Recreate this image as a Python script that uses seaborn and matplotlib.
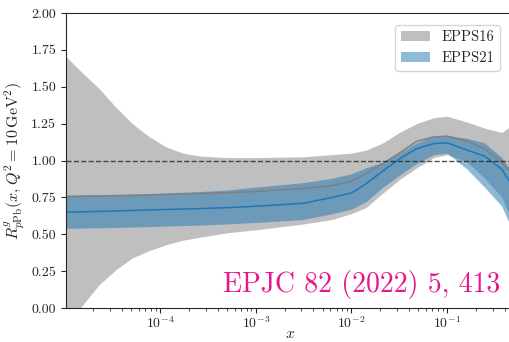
import numpy as np
import pandas as pd
import matplotlib
matplotlib.use("Agg")
import matplotlib.pyplot as plt
import seaborn as sns

# Gluon nuclear modification R^g_{pPb}(x, Q^2 = 10 GeV^2): EPPS16 vs EPPS21
x = [1.0e-5, 1.51e-5, 2.29e-5, 3.47e-5, 5.13e-5, 7.76e-5, 1.17e-4, 1.74e-4,
     2.63e-4, 5.0e-4, 1.0e-3, 3.16e-3, 6.3e-3, 1.0e-2, 1.41e-2, 2.14e-2,
     3.16e-2, 4.79e-2, 7.24e-2, 0.1, 0.162, 0.245, 0.372, 0.5]

epps16_hi = [1.715, 1.60, 1.49, 1.36, 1.25, 1.16, 1.09, 1.05, 1.03, 1.02,
             1.02, 1.025, 1.04, 1.05, 1.07, 1.12, 1.19, 1.25, 1.29, 1.30,
             1.26, 1.22, 1.19, 1.25]
epps16_lo = [-0.2, 0.01, 0.156, 0.26, 0.34, 0.39, 0.43, 0.46, 0.48, 0.51,
             0.53, 0.57, 0.60, 0.64, 0.68, 0.78, 0.87, 0.95, 1.02, 1.04,
             0.99, 0.88, 0.75, 0.55]
epps16_c = [0.755, 0.757, 0.759, 0.761, 0.763, 0.766, 0.770, 0.773, 0.776,
            0.782, 0.79, 0.81, 0.83, 0.86, 0.91, 0.98, 1.05, 1.13, 1.16,
            1.165, 1.13, 1.08, 0.99, 0.89]

epps21_hi = [0.765, 0.767, 0.769, 0.771, 0.773, 0.776, 0.78, 0.785, 0.79,
             0.80, 0.82, 0.85, 0.88, 0.91, 0.95, 0.99, 1.05, 1.12, 1.165,
             1.17, 1.15, 1.12, 1.02, 0.90]
epps21_c = [0.65, 0.652, 0.655, 0.658, 0.661, 0.665, 0.668, 0.671, 0.674,
            0.68, 0.69, 0.71, 0.75, 0.78, 0.84, 0.93, 1.01, 1.08, 1.115,
            1.12, 1.07, 1.03, 0.94, 0.81]
epps21_lo = [0.54, 0.542, 0.544, 0.546, 0.549, 0.552, 0.556, 0.559, 0.562,
             0.57, 0.58, 0.60, 0.64, 0.67, 0.72, 0.82, 0.90, 0.98, 1.04,
             1.05, 0.94, 0.82, 0.69, 0.50]

y_ticks = [0.00, 0.25, 0.50, 0.75, 1.00, 1.25, 1.50, 1.75, 2.00]
reference = "EPJC 82 (2022) 5, 413"

sns.set_theme(style="ticks")
plt.rcParams.update({
    "font.family": "serif",
    "font.serif": ["cmr10", "DejaVu Serif"],
    "mathtext.fontset": "cm",
    "axes.formatter.use_mathtext": True,
    "axes.unicode_minus": False,
    "xtick.labelsize": 10,
    "ytick.labelsize": 10,
    "axes.linewidth": 0.8,
    "xtick.major.width": 0.8,
    "ytick.major.width": 0.8,
    "xtick.major.size": 3.5,
    "ytick.major.size": 3.5,
    "xtick.minor.size": 2,
    "xtick.minor.width": 0.6,
    "xtick.major.pad": 2,
})

df = pd.DataFrame({"x": x, "c16": epps16_c, "c21": epps21_c})

fig = plt.figure(figsize=(5.09, 3.42), dpi=100)
ax = fig.add_axes([66 / 509, 34 / 342, (509 - 66) / 509 + 0.01, (308 - 13) / 342])

ax.fill_between(x, epps16_lo, epps16_hi, color="gray", alpha=0.5, lw=0, label="EPPS16")
sns.lineplot(data=df, x="x", y="c16", ax=ax, color="gray", lw=1.1)
ax.fill_between(x, epps21_lo, epps21_hi, color="tab:blue", alpha=0.5, lw=0, label="EPPS21")
sns.lineplot(data=df, x="x", y="c21", ax=ax, color="tab:blue", lw=1.1)

ax.axhline(1.0, color="k", ls="--", lw=1.0, alpha=0.75)

ax.set_xscale("log")
ax.set_xlim(1.04e-5, 0.5)
ax.set_ylim(0, 2)
ax.set_yticks(y_ticks)
ax.set_yticklabels([f"{v:.2f}" for v in y_ticks])
ax.spines["right"].set_visible(False)

ax.set_xlabel(r"$x$", fontsize=11, labelpad=-3)
ax.set_ylabel(r"$R^{g}_{p\mathrm{Pb}}(x,Q^2=10\,\mathrm{GeV}^2)$", fontsize=11.5, labelpad=3)

handles, labels = ax.get_legend_handles_labels()
ax.legend(handles[:2], labels[:2], loc="upper right", fontsize=10.5,
          bbox_to_anchor=(0.985, 0.985), frameon=True)

ax.text(0.969, 0.054, reference, transform=ax.transAxes, ha="right", va="baseline",
        fontsize=20, color="#e8168c")

fig.savefig("out.png", dpi=100)
